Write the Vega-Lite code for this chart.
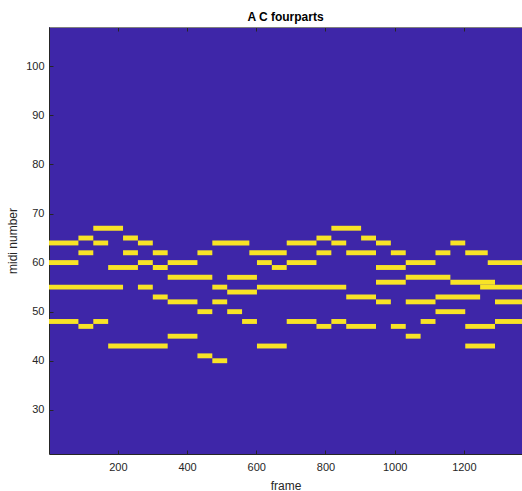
{
  "$schema": "https://vega.github.io/schema/vega-lite/v6.json",
  "autosize": {"type": "none"},
  "padding": {"left": 49, "top": 27, "right": 0, "bottom": 37},
  "width": 473,
  "height": 427,
  "title": {
    "text": "A C fourparts",
    "fontSize": 12,
    "fontWeight": "bold",
    "font": "Liberation Sans",
    "color": "#000000",
    "anchor": "middle",
    "baseline": "alphabetic",
    "offset": -6
  },
  "config": {
    "view": {"fill": "#3E26A8", "stroke": null},
    "axis": {
      "labelFont": "Liberation Sans",
      "titleFont": "Liberation Sans",
      "labelFontSize": 11,
      "titleFontSize": 12,
      "labelColor": "#262626",
      "titleColor": "#262626",
      "titleFontWeight": "normal",
      "tickColor": "#262626",
      "domainColor": "#262626",
      "grid": false
    }
  },
  "data": {
    "values": [
      {"midi": 64, "start": 1, "end": 86},
      {"midi": 60, "start": 1, "end": 86},
      {"midi": 55, "start": 1, "end": 215},
      {"midi": 48, "start": 1, "end": 86},
      {"midi": 65, "start": 86, "end": 129},
      {"midi": 62, "start": 86, "end": 129},
      {"midi": 47, "start": 86, "end": 129},
      {"midi": 67, "start": 129, "end": 215},
      {"midi": 64, "start": 129, "end": 172},
      {"midi": 48, "start": 129, "end": 172},
      {"midi": 59, "start": 172, "end": 258},
      {"midi": 43, "start": 172, "end": 344},
      {"midi": 65, "start": 215, "end": 258},
      {"midi": 62, "start": 215, "end": 258},
      {"midi": 64, "start": 258, "end": 301},
      {"midi": 60, "start": 258, "end": 301},
      {"midi": 55, "start": 258, "end": 301},
      {"midi": 62, "start": 301, "end": 344},
      {"midi": 59, "start": 301, "end": 344},
      {"midi": 53, "start": 301, "end": 344},
      {"midi": 60, "start": 344, "end": 430},
      {"midi": 57, "start": 344, "end": 473},
      {"midi": 52, "start": 344, "end": 430},
      {"midi": 45, "start": 344, "end": 430},
      {"midi": 62, "start": 430, "end": 473},
      {"midi": 50, "start": 430, "end": 473},
      {"midi": 41, "start": 430, "end": 473},
      {"midi": 64, "start": 473, "end": 580},
      {"midi": 55, "start": 473, "end": 516},
      {"midi": 52, "start": 473, "end": 516},
      {"midi": 40, "start": 473, "end": 516},
      {"midi": 57, "start": 516, "end": 602},
      {"midi": 54, "start": 516, "end": 602},
      {"midi": 50, "start": 516, "end": 559},
      {"midi": 48, "start": 559, "end": 602},
      {"midi": 62, "start": 580, "end": 688},
      {"midi": 60, "start": 602, "end": 645},
      {"midi": 55, "start": 602, "end": 860},
      {"midi": 43, "start": 602, "end": 688},
      {"midi": 59, "start": 645, "end": 688},
      {"midi": 64, "start": 688, "end": 774},
      {"midi": 60, "start": 688, "end": 774},
      {"midi": 48, "start": 688, "end": 774},
      {"midi": 65, "start": 774, "end": 817},
      {"midi": 62, "start": 774, "end": 817},
      {"midi": 47, "start": 774, "end": 817},
      {"midi": 67, "start": 817, "end": 903},
      {"midi": 64, "start": 817, "end": 860},
      {"midi": 48, "start": 817, "end": 860},
      {"midi": 62, "start": 860, "end": 946},
      {"midi": 53, "start": 860, "end": 946},
      {"midi": 47, "start": 860, "end": 946},
      {"midi": 65, "start": 903, "end": 946},
      {"midi": 64, "start": 946, "end": 989},
      {"midi": 59, "start": 946, "end": 1032},
      {"midi": 56, "start": 946, "end": 1032},
      {"midi": 52, "start": 946, "end": 989},
      {"midi": 62, "start": 989, "end": 1032},
      {"midi": 47, "start": 989, "end": 1032},
      {"midi": 60, "start": 1032, "end": 1118},
      {"midi": 57, "start": 1032, "end": 1161},
      {"midi": 52, "start": 1032, "end": 1118},
      {"midi": 45, "start": 1032, "end": 1075},
      {"midi": 48, "start": 1075, "end": 1118},
      {"midi": 62, "start": 1118, "end": 1161},
      {"midi": 53, "start": 1118, "end": 1247},
      {"midi": 50, "start": 1118, "end": 1204},
      {"midi": 64, "start": 1161, "end": 1204},
      {"midi": 56, "start": 1161, "end": 1290},
      {"midi": 62, "start": 1204, "end": 1269},
      {"midi": 47, "start": 1204, "end": 1290},
      {"midi": 43, "start": 1204, "end": 1290},
      {"midi": 55, "start": 1247, "end": 1368},
      {"midi": 60, "start": 1269, "end": 1368},
      {"midi": 52, "start": 1290, "end": 1368},
      {"midi": 48, "start": 1290, "end": 1368}
    ]
  },
  "layer": [
    {
      "mark": {"type": "rect", "height": 4.9, "fill": "#F8E326", "clip": true},
      "encoding": {
        "x": {
          "field": "start",
          "type": "quantitative",
          "scale": {"domain": [1, 1368], "nice": false, "zero": false},
          "axis": {
            "title": "frame",
            "format": "d",
            "values": [200, 400, 600, 800, 1000, 1200],
            "tickSize": -4,
            "labelPadding": 11,
            "domainWidth": 1,
            "titleY": 31,
            "titleBaseline": "middle"
          }
        },
        "x2": {"field": "end"},
        "y": {
          "field": "midi",
          "type": "quantitative",
          "scale": {"domain": [21, 108], "nice": false, "zero": false},
          "axis": {
            "title": "midi number",
            "format": "d",
            "values": [30, 40, 50, 60, 70, 80, 90, 100],
            "tickSize": -4,
            "labelPadding": 9,
            "domainWidth": 1,
            "titleX": -37,
            "titleY": 213.5,
            "titleAngle": -90,
            "titleAlign": "center",
            "titleBaseline": "middle"
          }
        }
      }
    },
    {
      "mark": {"type": "rule", "opacity": 0},
      "encoding": {
        "x": {
          "field": "start",
          "type": "quantitative",
          "axis": {
            "orient": "top",
            "title": null,
            "labels": false,
            "values": [200, 400, 600, 800, 1000, 1200],
            "tickSize": -4,
            "domainColor": "#808080",
            "domainWidth": 1
          }
        }
      }
    }
  ],
  "resolve": {"axis": {"x": "independent"}}
}
